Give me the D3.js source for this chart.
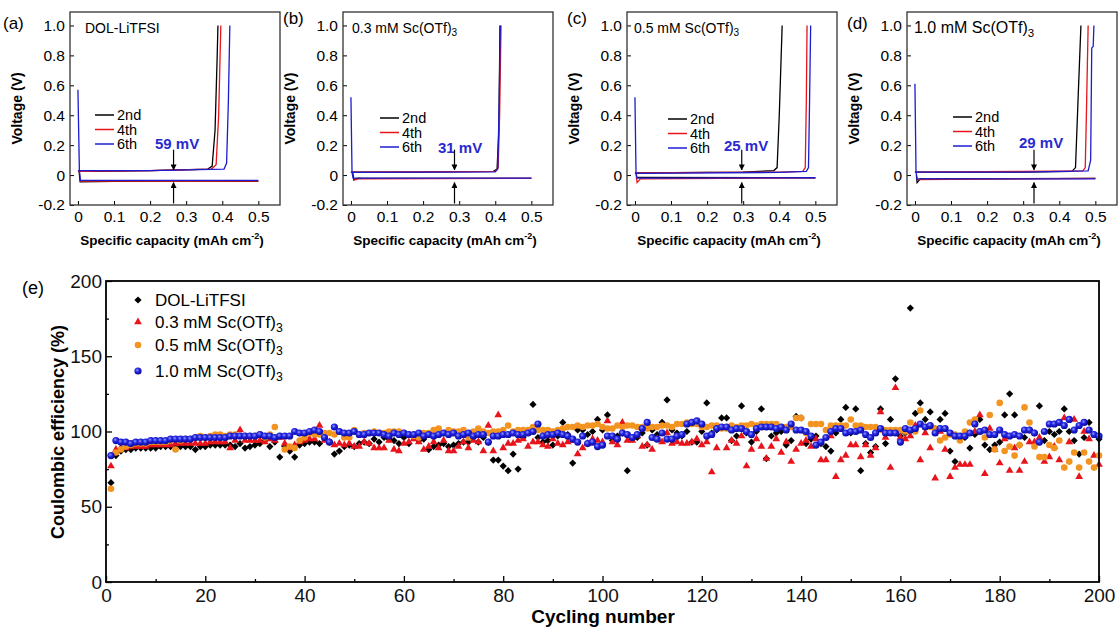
<!DOCTYPE html>
<html>
<head>
<meta charset="utf-8">
<script src="https://cdn.jsdelivr.net/npm/d3@7"></script>
<style>
  body { margin: 0; background: #fff; }
  svg { display: block; font-family: "Liberation Sans", Arial, sans-serif; }
</style>
</head>
<body>
<svg id="fig" width="1120" height="633"></svg>
<script>
// ---------- data: voltage profiles (a)-(d) ----------
const panelLetters = ['(a)', '(b)', '(c)', '(d)'];
const panelNames = [['DOL-LiTFSI', ''], ['0.3 mM Sc(OTf)', '3'], ['0.5 mM Sc(OTf)', '3'], ['1.0 mM Sc(OTf)', '3']];
const gapLabels = ['59 mV', '31 mV', '25 mV', '29 mV'];
const gapCapacity = [0.265, 0.287, 0.296, 0.33];
const cycleNames = ['2nd', '4th', '6th'];
const capTicks = [0, 0.1, 0.2, 0.3, 0.4, 0.5];
const voltTicks = [-0.2, 0, 0.2, 0.4, 0.6, 0.8, 1.0];

// [capacity (mAh cm-2), voltage (V)] for 2nd, 4th, 6th cycles
const platingA = [
  [[0.003, 0.03], [0.006, -0.045], [0.1, -0.042], [0.3, -0.041], [0.5, -0.042]],
  [[0.006, -0.04], [0.2, -0.04], [0.5, -0.04]],
  [[0, 0.57], [0.004, 0.03], [0.007, -0.035], [0.5, -0.035]]
];
const strippingA = [
  [[0, 0.03], [0.05, 0.025], [0.2, 0.03], [0.36, 0.04], [0.372, 0.06], [0.38, 0.3], [0.386, 0.8], [0.388, 1.0]],
  [[0, 0.025], [0.2, 0.03], [0.37, 0.04], [0.383, 0.07], [0.39, 0.4], [0.396, 1.0]],
  [[0, 0.03], [0.2, 0.03], [0.405, 0.04], [0.412, 0.08], [0.417, 0.5], [0.421, 1.0]]
];
const platingB = [
  [[0.005, 0.015], [0.008, -0.03], [0.02, -0.02], [0.035, -0.022], [0.5, -0.022]],
  [[0.006, -0.035], [0.02, -0.025], [0.5, -0.022]],
  [[0, 0.52], [0.003, 0.02], [0.006, -0.02], [0.5, -0.02]]
];
const strippingB = [
  [[0, 0.02], [0.2, 0.02], [0.395, 0.025], [0.405, 0.04], [0.41, 0.3], [0.413, 1.0]],
  [[0, 0.02], [0.4, 0.025], [0.408, 0.05], [0.412, 0.4], [0.416, 1.0]],
  [[0, 0.018], [0.4, 0.022], [0.407, 0.04], [0.411, 0.5], [0.414, 1.0]]
];
const platingC = [
  [[0.005, -0.015], [0.5, -0.018]],
  [[0.003, 0.01], [0.006, -0.05], [0.015, -0.025], [0.5, -0.018]],
  [[0, 0.52], [0.003, 0.015], [0.006, -0.02], [0.5, -0.018]]
];
const strippingC = [
  [[0, 0.015], [0.3, 0.02], [0.385, 0.03], [0.394, 0.05], [0.4, 0.4], [0.408, 1.0]],
  [[0, 0.015], [0.4, 0.02], [0.465, 0.025], [0.472, 0.05], [0.475, 0.5], [0.477, 1.0]],
  [[0, 0.012], [0.4, 0.018], [0.475, 0.025], [0.481, 0.05], [0.484, 0.5], [0.487, 1.0]]
];
const platingD = [
  [[0.004, 0.0], [0.006, -0.05], [0.015, -0.025], [0.5, -0.022]],
  [[0.006, -0.03], [0.5, -0.022]],
  [[0, 0.61], [0.003, 0.02], [0.006, -0.025], [0.5, -0.025]]
];
const strippingD = [
  [[0, 0.02], [0.3, 0.02], [0.435, 0.025], [0.445, 0.05], [0.452, 0.5], [0.46, 1.0]],
  [[0, 0.02], [0.3, 0.025], [0.465, 0.028], [0.472, 0.05], [0.476, 0.5], [0.48, 1.0]],
  [[0, 0.02], [0.3, 0.02], [0.48, 0.028], [0.487, 0.1], [0.49, 0.85], [0.494, 0.86], [0.496, 1.0]]
];

// ---------- data: Coulombic efficiency (e) ----------
const seriesNames = [['DOL-LiTFSI', ''], ['0.3 mM Sc(OTf)', '3'], ['0.5 mM Sc(OTf)', '3'], ['1.0 mM Sc(OTf)', '3']];
const cycleTicks = [0, 20, 40, 60, 80, 100, 120, 140, 160, 180, 200];
const ceTicks = [0, 50, 100, 150, 200];

const ceDOL = [
  66, 84, 87, 88, 88, 89, 89, 89, 89, 89,
  90, 90, 90, 90, 90, 90, 90, 88, 90, 90,
  91, 91, 91, 91, 91, 90, 92, 89, 90, 91,
  92, 94, 90, 93, 83, 90, 87, 83, 91, 92,
  93, 93, 92, 96, 93, 85, 87, 90, 91, 90,
  92, 93, 92, 95, 93, 96, 95, 94, 92, 96,
  92, 96, 94, 95, 88, 90, 91, 92, 90, 91,
  92, 93, 93, 96, 93, 96, 93, 81, 81, 77,
  74, 85, 75, 96, 99, 118, 96, 93, 94, 91,
  97, 106, 98, 79, 101, 101, 98, 100, 108, 101,
  111, 94, 97, 99, 74, 95, 96, 99, 91, 101,
  98, 106, 121, 101, 99, 97, 100, 93, 93, 100,
  119, 99, 101, 109, 109, 94, 97, 117, 99, 93,
  100, 115, 82, 97, 99, 100, 91, 94, 110, 109,
  92, 95, 97, 92, 90, 87, 99, 108, 116, 99,
  115, 74, 92, 86, 90, 115, 92, 108, 135, 97,
  99, 182, 112, 119, 108, 113, 102, 108, 112, 87,
  80, 95, 96, 89, 98, 108, 91, 88, 91, 93,
  111, 125, 111, 91, 96, 101, 99, 117, 94, 100,
  98, 100, 115, 100, 94, 85, 96, 106, 98, 95
];
const ceSc03 = [
  77, 88, 89, 89, 90, 90, 90, 90, 91, 91,
  91, 91, 91, 92, 92, 92, 92, 92, 92, 92,
  93, 93, 93, 93, 89, 94, 101, 94, 94, 94,
  94, 93, 95, 94, 96, 92, 89, 91, 93, 94,
  95, 95, 104, 94, 93, 91, 92, 91, 92, 90,
  90, 93, 92, 89, 89, 89, 94, 88, 87, 92,
  93, 95, 93, 88, 90, 93, 89, 94, 87, 87,
  90, 93, 89, 94, 93, 87, 104, 87, 111, 89,
  92, 92, 94, 95, 90, 93, 93, 91, 90, 95,
  92, 91, 93, 94, 85, 89, 92, 95, 94, 93,
  107, 93, 91, 106, 94, 94, 97, 90, 91, 88,
  95, 93, 99, 92, 93, 92, 92, 93, 95, 91,
  93, 73, 89, 102, 89, 94, 92, 97, 77, 88,
  95, 90, 82, 90, 95, 86, 93, 80, 88, 92,
  94, 90, 95, 81, 81, 97, 70, 81, 84, 91,
  91, 83, 91, 84, 89, 113, 96, 76, 129, 96,
  95, 97, 104, 81, 99, 89, 69, 100, 88, 70,
  76, 78, 78, 78, 100, 111, 72, 102, 88, 79,
  95, 74, 89, 74, 80, 93, 93, 96, 80, 83,
  90, 81, 109, 93, 108, 70, 100, 95, 84, 78
];
const ceSc05 = [
  62, 86, 88, 90, 91, 92, 92, 92, 93, 93,
  93, 93, 94, 88, 94, 95, 95, 96, 97, 96,
  97, 98, 98, 97, 98, 98, 97, 97, 97, 97,
  98, 96, 98, 103, 97, 88, 90, 89, 94, 96,
  99, 98, 98, 99, 99, 98, 100, 96, 96, 101,
  98, 99, 99, 100, 99, 99, 100, 100, 100, 99,
  98, 97, 96, 99, 99, 101, 102, 99, 101, 100,
  100, 101, 96, 100, 102, 100, 99, 100, 100, 101,
  104, 100, 101, 101, 101, 103, 101, 101, 101, 100,
  101, 102, 103, 103, 104, 103, 104, 104, 105, 103,
  102, 102, 104, 103, 104, 104, 103, 103, 102, 103,
  103, 104, 104, 103, 105, 105, 106, 105, 105, 103,
  103, 104, 104, 102, 102, 104, 103, 104, 104, 105,
  104, 105, 105, 105, 105, 103, 103, 103, 109, 109,
  99, 105, 105, 105, 101, 104, 104, 104, 104, 108,
  104, 104, 103, 103, 103, 101, 101, 101, 101, 101,
  100, 106, 100, 114, 103, 103, 102, 94, 96, 98,
  98, 94, 100, 106, 108, 100, 96, 111, 88, 119,
  87, 90, 84, 91, 116, 106, 90, 83, 83, 91,
  89, 94, 76, 80, 86, 76, 86, 80, 76, 84
];
const ceSc10 = [
  84, 94, 93, 93, 92, 93, 93, 93, 94, 94,
  94, 94, 95, 95, 95, 95, 95, 96, 96, 96,
  96, 96, 96, 96, 97, 97, 97, 97, 97, 97,
  98, 97, 97, 96, 97, 97, 97, 100, 99, 99,
  100, 101, 100, 96, 93, 103, 100, 99, 99, 100,
  98, 98, 99, 99, 99, 98, 97, 99, 98, 99,
  98, 98, 99, 97, 98, 97, 98, 99, 98, 99,
  97, 98, 99, 97, 98, 98, 93, 97, 97, 98,
  98, 99, 98, 98, 99, 100, 105, 97, 98, 98,
  99, 98, 97, 95, 93, 97, 92, 93, 90, 91,
  97, 97, 95, 99, 98, 96, 98, 102, 106, 96,
  95, 99, 95, 95, 97, 98, 105, 106, 107, 105,
  97, 98, 102, 103, 103, 101, 102, 102, 100, 98,
  102, 103, 103, 103, 102, 103, 101, 105, 101, 101,
  100, 97, 91, 93, 96, 100, 102, 102, 99, 100,
  100, 101, 98, 96, 99, 102, 99, 99, 99, 93,
  102, 101, 102, 105, 103, 104, 99, 102, 102, 99,
  97, 97, 97, 99, 105, 100, 101, 98, 98, 101,
  98, 97, 98, 97, 101, 101, 99, 93, 100, 105,
  105, 106, 104, 108, 101, 104, 106, 101, 98, 97
];

// ---------- styling ----------
const cycleColors = ['#000000', '#e8141b', '#1c1cd2'];
const gapColor = '#2a2ad0';
const markerColors = ['#000000', '#e8141b', '#f39320', '#1f1fd8'];

const svg = d3.select('#fig');
svg.append('rect').attr('width', 1120).attr('height', 633).attr('fill', '#fff');

const defs = svg.append('defs');
defs.append('marker')
    .attr('id', 'arrow')
    .attr('viewBox', '0 0 10 10')
    .attr('refX', 9).attr('refY', 5)
    .attr('markerWidth', 5).attr('markerHeight', 5)
    .attr('orient', 'auto')
  .append('path')
    .attr('d', 'M0,0 L10,5 L0,10 z')
    .attr('fill', '#000');
const grad = defs.append('radialGradient')
    .attr('id', 'ball')
    .attr('cx', '40%').attr('cy', '38%').attr('r', '62%');
grad.append('stop').attr('offset', '0%').attr('stop-color', '#8f9cff');
grad.append('stop').attr('offset', '45%').attr('stop-color', '#2323e0');
grad.append('stop').attr('offset', '100%').attr('stop-color', '#0a0a9c');

// text with a small subscript "3"
function subText(sel, parts, size) {
  sel.append('tspan').text(parts[0]);
  if (parts[1]) {
    sel.append('tspan')
      .attr('font-size', size * 0.72)
      .attr('dy', size * 0.22)
      .text(parts[1]);
  }
  return sel;
}

/*
 * Panels (a)-(d)
 */
const panels = [
  {plating: platingA, stripping: strippingA},
  {plating: platingB, stripping: strippingB},
  {plating: platingC, stripping: strippingC},
  {plating: platingD, stripping: strippingD}
];
const panelLeft = [70, 343, 627, 907];
const legendDx = [25, 37, 41, 46];
const legendY = [115, 118, 119, 117];
const gapDx = [85, 95, 97, 112];
const gapY = [144, 148, 146, 143];
const nameDx = [15, 9, 7, 7];
const nameSize = [14, 14, 14, 16];
const panelW = 210, panelTop = 12, panelBottom = 205;

panels.forEach((p, i) => {
  const left = panelLeft[i];
  const x = d3.scaleLinear().domain([-0.022, 0.56]).range([left, left + panelW]);
  const y = d3.scaleLinear().domain([-0.2, 1.09]).range([panelBottom, panelTop]);
  const g = svg.append('g');
  const line = d3.line().x(d => x(d[0])).y(d => y(d[1]));

  [0, 1, 2].forEach(k => {
    [p.plating[k], p.stripping[k]].forEach(c => {
      g.append('path')
        .attr('d', line(c))
        .attr('fill', 'none')
        .attr('stroke', cycleColors[k])
        .attr('stroke-width', 1.3);
    });
  });

  // axes
  const xAxis = d3.axisBottom(x).tickValues(capTicks)
    .tickSizeInner(-4).tickSizeOuter(0).tickPadding(6)
    .tickFormat(d => d === 0 ? '0' : d3.format('.1f')(d));
  const yAxis = d3.axisLeft(y).tickValues(voltTicks)
    .tickSizeInner(-4).tickSizeOuter(0).tickPadding(5)
    .tickFormat(d => Math.abs(d) < 1e-9 ? '0' : d3.format('.1f')(d));
  const gx = g.append('g').attr('transform', `translate(0,${panelBottom})`).call(xAxis);
  const gy = g.append('g').attr('transform', `translate(${left},0)`).call(yAxis);
  [gx, gy].forEach(a => {
    a.select('.domain').remove();
    a.selectAll('text').attr('font-size', 15.5).attr('font-family', null).attr('fill', '#000');
    a.selectAll('line').attr('stroke', '#000');
  });
  gy.selectAll('text').text(function() { return this.textContent.replace('−', '-'); });

  g.append('rect')
    .attr('x', left).attr('y', panelTop)
    .attr('width', panelW).attr('height', panelBottom - panelTop)
    .attr('fill', 'none').attr('stroke', '#333').attr('stroke-width', 1.3);

  // labels
  g.append('text')
    .attr('x', left - 53).attr('y', (panelTop + panelBottom) / 2)
    .attr('transform', `rotate(-90, ${left - 53}, ${(panelTop + panelBottom) / 2})`)
    .attr('text-anchor', 'middle').attr('dy', '0.35em')
    .attr('font-size', 14).attr('font-weight', 'bold')
    .text('Voltage (V)');
  const xl = g.append('text')
    .attr('x', left + panelW / 2 - 3).attr('y', 245)
    .attr('text-anchor', 'middle')
    .attr('font-size', 13.5).attr('font-weight', 'bold');
  xl.append('tspan').text('Specific capacity (mAh cm');
  xl.append('tspan').attr('font-size', 9).attr('dy', -6).text('-2');
  xl.append('tspan').attr('dy', 6).text(')');

  g.append('text')
    .attr('x', left - (i === 0 ? 67 : 60)).attr('y', i === 0 || i === 3 ? 29 : 24)
    .attr('font-size', 17)
    .text(panelLetters[i]);
  subText(g.append('text')
      .attr('x', left + nameDx[i]).attr('y', 33)
      .attr('font-size', nameSize[i]), panelNames[i], nameSize[i]);

  // cycle legend
  cycleNames.forEach((n, k) => {
    const ly = legendY[i] + k * 14.5;
    g.append('line')
      .attr('x1', left + legendDx[i]).attr('x2', left + legendDx[i] + 19)
      .attr('y1', ly).attr('y2', ly)
      .attr('stroke', cycleColors[k]).attr('stroke-width', 1.5);
    g.append('text')
      .attr('x', left + legendDx[i] + 22).attr('y', ly + 5)
      .attr('font-size', 14.5)
      .text(n);
  });
  g.append('text')
    .attr('x', left + gapDx[i]).attr('y', gapY[i] + 5)
    .attr('font-size', 15).attr('font-weight', 'bold')
    .attr('fill', gapColor)
    .text(gapLabels[i]);

  // overpotential arrows
  const ax = x(gapCapacity[i]);
  g.append('line')
    .attr('x1', ax).attr('x2', ax)
    .attr('y1', y(0.17)).attr('y2', y(0.035))
    .attr('stroke', '#000').attr('stroke-width', 1.2)
    .attr('marker-end', 'url(#arrow)');
  g.append('line')
    .attr('x1', ax).attr('x2', ax)
    .attr('y1', y(-0.19)).attr('y2', y(-0.05))
    .attr('stroke', '#000').attr('stroke-width', 1.2)
    .attr('marker-end', 'url(#arrow)');
});

/*
 * Panel (e)
 */
const eLeft = 106, eRight = 1099, eTop = 281, eBottom = 582;
const x = d3.scaleLinear().domain([0, 200]).range([eLeft, eRight]);
const y = d3.scaleLinear().domain([0, 200]).range([eBottom, eTop]);
const ge = svg.append('g');

const series = [ceDOL, ceSc03, ceSc05, ceSc10];
const diamond = d3.symbol().type(d3.symbolSquare).size(26)();
const triangle = d3.symbol().type(d3.symbolTriangle).size(26)();

function drawMarker(sel, k) {
  if (k === 0) {
    sel.append('path').attr('d', diamond).attr('fill', markerColors[0]).attr('transform', 'rotate(45)');
  } else if (k === 1) {
    sel.append('path').attr('d', triangle).attr('fill', markerColors[1]);
  } else if (k === 2) {
    sel.append('circle').attr('r', 3.3).attr('fill', markerColors[2]);
  } else {
    sel.append('circle').attr('r', 3.6).attr('fill', 'url(#ball)');
  }
}

series.forEach((vals, k) => {
  const grp = ge.append('g');
  vals.forEach((v, j) => {
    const m = grp.append('g').attr('transform', `translate(${x(j + 1)},${y(v)})`);
    drawMarker(m, k);
  });
});

// axes
const axisStyle = a => {
  a.select('.domain').remove();
  a.selectAll('line').attr('stroke', '#000').attr('stroke-width', 1.3);
  a.selectAll('text').attr('font-size', 19).attr('font-family', null).attr('fill', '#111');
};
ge.append('g').attr('transform', `translate(0,${eBottom})`)
  .call(d3.axisBottom(x).tickValues(cycleTicks).tickSizeInner(-6).tickSizeOuter(0).tickPadding(7))
  .call(axisStyle);
ge.append('g').attr('transform', `translate(0,${eBottom})`)
  .call(d3.axisBottom(x).tickValues(d3.range(10, 200, 20)).tickSizeInner(-3).tickSizeOuter(0).tickFormat(''))
  .call(axisStyle);
ge.append('g').attr('transform', `translate(${eLeft},0)`)
  .call(d3.axisLeft(y).tickValues(ceTicks).tickSizeInner(-6).tickSizeOuter(0).tickPadding(4))
  .call(axisStyle);
ge.append('g').attr('transform', `translate(${eLeft},0)`)
  .call(d3.axisLeft(y).tickValues([25, 75, 125, 175]).tickSizeInner(-3).tickSizeOuter(0).tickFormat(''))
  .call(axisStyle);

ge.append('rect')
  .attr('x', eLeft).attr('y', eTop)
  .attr('width', eRight - eLeft).attr('height', eBottom - eTop)
  .attr('fill', 'none').attr('stroke', '#000').attr('stroke-width', 1.8);

ge.append('text')
  .attr('x', 58).attr('y', 432)
  .attr('transform', 'rotate(-90, 58, 432)')
  .attr('text-anchor', 'middle').attr('dy', '0.35em')
  .attr('font-size', 18).attr('font-weight', 'bold')
  .text('Coulombic efficiency (%)');
ge.append('text')
  .attr('x', 603).attr('y', 623)
  .attr('text-anchor', 'middle')
  .attr('font-size', 19).attr('font-weight', 'bold')
  .text('Cycling number');
ge.append('text')
  .attr('x', 22).attr('y', 294)
  .attr('font-size', 18)
  .text('(e)');

// legend
const legendRows = [300, 322, 345, 371];
seriesNames.forEach((n, k) => {
  const m = ge.append('g').attr('transform', `translate(138,${legendRows[k]})`);
  drawMarker(m, k);
  subText(ge.append('text')
      .attr('x', 155).attr('y', legendRows[k] + 6)
      .attr('font-size', 17), n, 17);
});
</script>
</body>
</html>
